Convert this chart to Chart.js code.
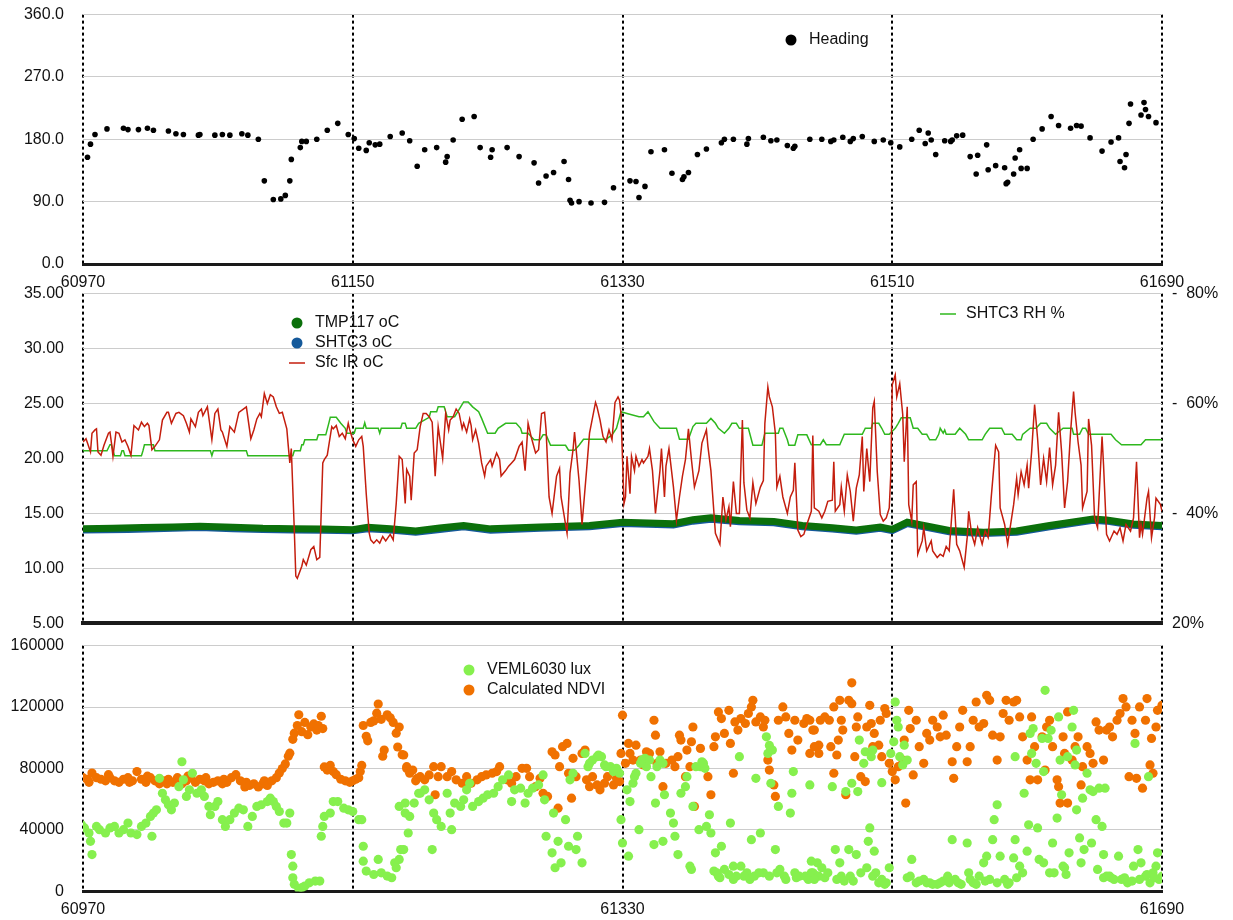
<!DOCTYPE html>
<html>
<head>
<meta charset="utf-8">
<script src="https://cdn.jsdelivr.net/npm/chart.js@4.4.1/dist/chart.umd.min.js"></script>
<style>
  body { margin: 0; background: #fff; overflow: hidden; }
  .panel { position: absolute; left: 0; }
</style>
</head>
<body>
<canvas id="c1" class="panel" style="top:-14px" width="1233" height="314"></canvas>
<canvas id="c2" class="panel" style="top:265px" width="1233" height="387"></canvas>
<canvas id="c3" class="panel" style="top:617px" width="1233" height="303"></canvas>
<script>
// x ticks shared by all three panels
const xTicks = [60970, 61150, 61330, 61510, 61690];

// top panel: heading (degrees)
const headingPoints = [[60973,154],[60975,173],[60978,187],[60986,195],[60997,196],[61000,194],[61007,194],[61013,196],[61017,193],[61027,192],[61032,188],[61037,187],[61047,186],[61048,187],[61058,186],[61063,187],[61068,186],[61076,188],[61080,186],[61087,180],[61091,120],[61097,93],[61102,94],[61105,99],[61108,120],[61109,151],[61115,168],[61116,177],[61119,177],[61126,180],[61133,193],[61140,203],[61147,187],[61151,181],[61154,167],[61159,164],[61161,175],[61165,172],[61168,173],[61175,184],[61183,189],[61188,178],[61193,141],[61198,165],[61206,168],[61212,147],[61213,155],[61217,179],[61223,209],[61231,213],[61235,168],[61242,154],[61243,165],[61253,168],[61261,155],[61271,146],[61274,117],[61279,127],[61284,132],[61291,148],[61294,122],[61295,92],[61296,88],[61301,90],[61309,88],[61318,89],[61324,110],[61335,120],[61339,119],[61341,96],[61345,112],[61349,162],[61358,165],[61363,131],[61370,122],[61371,126],[61374,132],[61380,158],[61386,166],[61396,175],[61398,180],[61404,180],[61413,173],[61414,181],[61424,183],[61429,178],[61433,179],[61440,171],[61444,167],[61445,170],[61455,180],[61463,180],[61469,177],[61471,179],[61477,183],[61482,177],[61484,181],[61490,184],[61498,177],[61504,179],[61509,175],[61515,169],[61523,180],[61528,193],[61532,174],[61534,189],[61536,179],[61539,158],[61545,178],[61549,177],[61550,179],[61553,185],[61557,186],[61562,155],[61566,130],[61567,157],[61573,172],[61574,136],[61579,142],[61585,139],[61586,116],[61587,118],[61591,130],[61592,153],[61595,165],[61596,138],[61600,138],[61604,180],[61610,195],[61616,213],[61621,200],[61629,196],[61633,200],[61636,199],[61642,182],[61650,163],[61656,176],[61661,182],[61662,148],[61665,139],[61666,158],[61668,203],[61669,231],[61676,215],[61678,233],[61679,223],[61681,213],[61686,204]];

// middle panel: temperatures (oC) and humidity (%)
const tmp117Points = [[60970,13.62],[60990,13.65],[61010,13.72],[61030,13.78],[61048,13.83],[61070,13.75],[61090,13.65],[61110,13.62],[61130,13.58],[61150,13.52],[61160,13.74],[61175,13.6],[61192,13.4],[61208,13.68],[61224,13.9],[61242,13.6],[61275,13.76],[61308,13.9],[61330,14.2],[61364,14.07],[61377,14.43],[61389,14.6],[61408,14.37],[61431,14.28],[61450,13.9],[61470,13.7],[61486,13.5],[61502,13.77],[61510,13.55],[61520,14.2],[61548,13.46],[61571,13.3],[61593,13.4],[61615,13.9],[61644,14.5],[61653,14.4],[61671,14.04],[61690,13.9]];
const shtc3TempPoints = [[60970,13.5],[61000,13.55],[61030,13.65],[61048,13.72],[61070,13.62],[61090,13.55],[61110,13.5],[61130,13.47],[61150,13.42],[61160,13.6],[61175,13.5],[61192,13.3],[61208,13.55],[61224,13.78],[61242,13.48],[61275,13.65],[61308,13.78],[61330,14.08],[61364,13.95],[61377,14.3],[61389,14.48],[61408,14.25],[61431,14.15],[61450,13.78],[61470,13.58],[61486,13.38],[61502,13.65],[61510,13.45],[61520,14.08],[61548,13.33],[61571,13.18],[61593,13.28],[61615,13.78],[61644,14.38],[61653,14.3],[61671,13.92],[61690,13.8]];
const sfcIrPoints = [[60970,21.5],[60972,21.8],[60973,21.4],[60975,20.6],[60976,22.3],[60978,22.6],[60979,22.7],[60980,20.6],[60982,20.3],[60984,21.2],[60987,22.3],[60988,22.4],[60989,21.4],[60990,20.2],[60992,22.4],[60994,22.3],[60996,21.5],[60998,21.7],[61000,21.1],[61002,20.3],[61004,23.0],[61007,22.6],[61009,23.3],[61011,22.9],[61013,23.2],[61014,23.0],[61016,20.8],[61018,21.1],[61021,21.7],[61023,23.5],[61026,24.2],[61027,24.2],[61029,23.2],[61032,24.1],[61034,24.2],[61037,23.9],[61039,23.2],[61041,22.4],[61042,23.6],[61045,22.9],[61047,24.2],[61049,24.5],[61050,23.9],[61053,24.7],[61056,21.7],[61058,24.1],[61060,24.5],[61062,22.6],[61063,22.4],[61066,21.1],[61068,22.9],[61071,22.4],[61074,24.2],[61077,24.5],[61079,24.7],[61082,21.8],[61084,22.6],[61086,23.6],[61088,24.1],[61089,23.8],[61091,25.9],[61093,25.0],[61095,25.8],[61097,25.6],[61099,24.7],[61101,24.1],[61103,24.2],[61106,22.7],[61107,21.1],[61108,19.6],[61109,20.9],[61111,13.5],[61112,9.3],[61113,9.1],[61116,10.2],[61117,10.8],[61119,10.3],[61122,11.7],[61124,12.0],[61126,10.8],[61128,11.0],[61130,19.6],[61131,19.9],[61133,20.3],[61136,22.9],[61137,22.7],[61139,23.0],[61141,22.0],[61143,22.3],[61145,21.8],[61147,23.2],[61148,22.6],[61150,21.7],[61152,21.1],[61154,21.7],[61156,22.0],[61157,21.1],[61159,16.8],[61161,13.2],[61162,12.6],[61164,12.3],[61166,12.6],[61168,12.3],[61170,12.9],[61172,12.5],[61175,13.1],[61177,12.6],[61179,15.9],[61181,20.2],[61183,19.9],[61185,15.9],[61186,19.0],[61188,18.4],[61189,16.2],[61191,20.5],[61193,20.8],[61195,22.9],[61197,24.1],[61199,24.1],[61201,23.8],[61203,23.3],[61205,18.4],[61207,22.9],[61210,20.0],[61212,24.1],[61214,22.6],[61215,23.5],[61217,23.8],[61219,24.5],[61221,24.1],[61223,22.7],[61224,23.2],[61226,22.4],[61228,23.6],[61229,23.0],[61230,21.7],[61232,22.6],[61234,21.4],[61236,19.6],[61238,18.4],[61239,19.3],[61242,19.9],[61243,19.3],[61246,20.5],[61248,19.9],[61249,18.4],[61252,18.9],[61254,19.3],[61256,19.6],[61258,19.9],[61261,21.1],[61263,21.5],[61265,18.9],[61267,23.2],[61269,22.0],[61272,20.5],[61274,20.8],[61276,24.1],[61278,24.2],[61279,22.6],[61281,16.5],[61283,15.0],[61286,18.4],[61288,19.1],[61289,16.5],[61292,14.0],[61293,13.2],[61295,18.7],[61297,20.8],[61298,22.4],[61301,18.0],[61303,14.0],[61306,18.9],[61308,22.3],[61312,25.1],[61313,24.7],[61315,23.5],[61317,22.0],[61319,21.5],[61321,22.6],[61323,21.7],[61325,25.1],[61327,25.6],[61328,25.3],[61329,24.1],[61331,15.9],[61332,16.5],[61333,20.2],[61335,16.8],[61336,20.2],[61338,18.9],[61339,20.2],[61341,19.3],[61343,19.9],[61344,19.6],[61347,20.2],[61348,20.9],[61350,18.9],[61352,15.0],[61355,18.9],[61356,20.9],[61358,16.5],[61359,19.3],[61361,20.9],[61364,17.4],[61366,14.4],[61368,16.5],[61370,18.4],[61372,19.9],[61374,22.7],[61376,19.9],[61378,17.4],[61381,18.9],[61383,21.4],[61386,22.6],[61387,21.1],[61389,18.9],[61392,13.2],[61395,12.2],[61397,16.5],[61399,14.4],[61401,15.6],[61402,13.8],[61404,17.9],[61406,15.0],[61408,15.0],[61410,23.5],[61411,17.8],[61413,15.3],[61415,14.6],[61417,17.8],[61419,15.9],[61422,17.4],[61424,18.0],[61425,23.2],[61427,26.5],[61428,25.6],[61430,24.7],[61432,22.3],[61433,17.4],[61435,18.4],[61437,16.5],[61440,15.0],[61442,16.5],[61444,17.1],[61445,19.6],[61447,13.5],[61449,12.9],[61451,13.1],[61453,14.0],[61456,15.2],[61457,22.1],[61458,15.5],[61461,15.2],[61463,14.6],[61465,15.2],[61467,16.1],[61470,16.2],[61471,19.7],[61472,15.2],[61475,15.8],[61476,17.4],[61478,15.2],[61480,18.5],[61482,17.0],[61484,14.3],[61486,17.3],[61488,18.5],[61490,22.0],[61491,17.0],[61493,20.9],[61495,17.9],[61497,24.6],[61498,25.2],[61500,18.8],[61502,14.9],[61504,14.3],[61506,14.6],[61508,15.5],[61509,18.5],[61510,26.7],[61512,27.6],[61513,25.6],[61515,26.8],[61517,24.0],[61518,19.7],[61520,24.7],[61521,15.8],[61523,14.3],[61524,17.6],[61526,17.9],[61527,11.3],[61530,12.5],[61531,13.7],[61533,11.6],[61536,12.5],[61537,11.6],[61540,11.0],[61542,11.3],[61544,11.1],[61546,12.0],[61548,11.6],[61551,17.2],[61553,12.2],[61555,11.6],[61558,10.1],[61560,12.8],[61561,15.2],[61563,13.1],[61565,12.2],[61567,13.7],[61570,12.2],[61572,13.4],[61574,12.8],[61576,16.4],[61579,21.2],[61581,20.6],[61582,15.5],[61585,14.0],[61587,12.2],[61589,14.0],[61591,15.8],[61593,18.2],[61594,16.7],[61596,18.8],[61598,17.6],[61600,19.4],[61601,17.3],[61603,20.6],[61605,24.9],[61607,21.8],[61609,17.6],[61611,20.0],[61613,17.9],[61615,21.0],[61617,17.6],[61619,19.4],[61621,24.2],[61623,20.6],[61625,15.5],[61627,17.9],[61629,22.4],[61631,26.1],[61632,24.2],[61634,21.5],[61636,19.4],[61637,15.5],[61640,17.0],[61641,23.6],[61643,21.2],[61645,14.6],[61647,13.7],[61650,22.0],[61651,19.4],[61653,13.1],[61655,12.5],[61658,13.4],[61660,13.1],[61662,13.7],[61664,12.5],[61666,14.0],[61669,13.4],[61671,14.6],[61673,19.7],[61675,12.8],[61676,14.0],[61677,13.1],[61680,16.4],[61681,17.0],[61683,12.8],[61685,14.6],[61686,16.4],[61689,15.8],[61690,15.2]];
const rhPoints = [[60970,51.4],[60986,51.4],[60988,52.5],[60989,52.5],[60991,50.5],[60995,50.5],[60996,51.4],[60997,51.4],[60998,50.5],[61009,50.5],[61010,51.4],[61011,52.5],[61017,52.5],[61018,51.4],[61055,51.4],[61056,50.5],[61057,51.4],[61079,51.4],[61080,50.5],[61110,50.5],[61111,51.4],[61115,51.4],[61116,52.5],[61117,52.5],[61118,53.4],[61126,53.4],[61127,54.3],[61132,54.3],[61134,56.4],[61135,57.5],[61139,57.5],[61142,56.4],[61145,55.5],[61146,54.6],[61151,54.6],[61152,55.5],[61157,55.5],[61158,56.5],[61159,55.5],[61167,55.5],[61168,54.6],[61169,55.5],[61182,55.5],[61183,56.4],[61185,56.4],[61186,55.5],[61192,55.5],[61194,56.4],[61201,57.5],[61202,58.5],[61206,58.5],[61207,59.4],[61211,59.4],[61213,57.6],[61218,57.6],[61220,58.5],[61222,59.4],[61224,60.3],[61227,60.3],[61230,59.4],[61234,58.5],[61236,57.3],[61240,54.6],[61245,54.6],[61247,55.5],[61252,56.4],[61259,56.4],[61262,55.5],[61263,54.6],[61267,54.6],[61271,53.4],[61275,53.4],[61277,54.3],[61279,54.3],[61282,52.4],[61292,52.4],[61294,51.5],[61298,51.5],[61301,52.4],[61304,53.5],[61319,53.5],[61323,54.3],[61326,55.5],[61329,58.5],[61333,58.2],[61341,57.6],[61344,57.6],[61347,58.5],[61349,57.6],[61351,56.7],[61355,55.5],[61366,55.5],[61368,53.5],[61374,53.5],[61377,55.8],[61379,56.4],[61386,56.4],[61389,57.3],[61392,56.4],[61394,55.5],[61398,54.6],[61401,55.5],[61403,56.4],[61406,56.4],[61408,55.5],[61414,55.5],[61417,52.4],[61423,52.4],[61425,54.6],[61434,54.6],[61435,55.5],[61437,55.5],[61440,53.4],[61441,52.4],[61445,52.4],[61447,54.3],[61453,54.3],[61456,52.5],[61462,52.5],[61464,53.4],[61466,52.5],[61475,52.5],[61478,54.4],[61490,54.4],[61492,55.5],[61496,55.5],[61497,56.4],[61501,56.4],[61503,55.5],[61505,54.4],[61508,54.4],[61512,55.5],[61514,56.4],[61516,57.4],[61522,57.4],[61524,55.5],[61527,55.5],[61530,54.4],[61533,54.4],[61535,53.4],[61539,53.4],[61541,54.4],[61542,55.5],[61544,54.6],[61545,55.2],[61546,54.4],[61552,54.4],[61555,55.5],[61559,54.4],[61561,53.4],[61570,53.4],[61572,54.4],[61575,55.5],[61583,55.5],[61585,54.4],[61590,54.4],[61593,53.4],[61596,53.4],[61597,54.4],[61602,55.5],[61606,55.5],[61609,56.4],[61613,56.4],[61615,55.5],[61619,54.4],[61624,55.5],[61630,55.5],[61631,54.4],[61635,54.4],[61637,55.5],[61639,55.5],[61641,54.4],[61656,54.4],[61659,53.4],[61663,52.5],[61676,52.5],[61679,53.4],[61690,53.4]];

// bottom panel: light (lux) and NDVI
const luxPoints = [[60969,43400],[60971,41300],[60974,38000],[60975,32600],[60976,24000],[60979,42300],[60981,40200],[60985,38000],[60988,41300],[60991,42300],[60994,38000],[60997,40200],[61000,44500],[61002,38000],[61006,37000],[61009,42300],[61012,44500],[61015,48800],[61016,35900],[61017,51000],[61019,53100],[61021,73600],[61023,63900],[61025,59600],[61027,56400],[61029,53100],[61031,57500],[61034,68200],[61036,84400],[61037,72600],[61039,61800],[61041,66100],[61043,76900],[61046,63900],[61049,66100],[61051,61800],[61054,55300],[61055,49900],[61058,55300],[61060,58500],[61063,46700],[61065,42300],[61068,46700],[61071,51000],[61074,54200],[61077,53100],[61080,42300],[61083,48800],[61086,55300],[61089,56400],[61093,58500],[61095,60700],[61097,58500],[61099,55300],[61101,52000],[61104,44500],[61106,44500],[61108,51000],[61109,24000],[61110,16400],[61110,8900],[61111,4600],[61114,1800],[61116,2400],[61118,3500],[61121,5600],[61125,6700],[61128,6700],[61129,35900],[61130,42300],[61131,48800],[61135,51000],[61137,58500],[61140,58500],[61144,54200],[61147,53100],[61150,52000],[61154,46700],[61156,46700],[61157,29400],[61157,19700],[61159,13200],[61164,11000],[61167,20800],[61169,12100],[61173,10000],[61176,8900],[61178,18600],[61179,15400],[61181,20800],[61182,27200],[61181,55300],[61185,57500],[61187,38000],[61188,48800],[61191,57500],[61194,63900],
  [61184,27200],[61185,51000],[61195,63900],[61198,66100],[61201,59600],[61204,51000],[61203,27200],[61206,46700],[61209,42300],[61213,63900],[61215,51000],[61216,40200],[61218,57500],[61222,55300],[61224,59600],[61226,66100],[61228,70400],[61230,55300],[61234,58500],[61237,60700],[61240,62900],[61244,63900],[61247,68200],[61250,72600],[61254,75800],[61256,58500],[61258,66100],[61262,67200],[61265,57500],[61267,63900],[61270,67200],[61274,69300],[61277,75800],[61278,59600],[61279,35900],[61283,25100],[61284,51000],[61285,15400],[61287,32600],[61289,18600],[61292,46700],[61294,29400],[61295,72600],[61297,76900],[61299,27200],[61300,35900],[61303,18600],[61305,89800],[61307,81200],[61310,85500],[61314,88800],[61316,87700],[61318,82300],[61322,81200],[61325,79000],[61328,76900],[61329,46700],[61330,31500],[61333,66100],[61334,22900],[61335,58500],[61337,70400],[61339,76900],[61341,40200],[61343,85500],[61346,81200],[61349,74700],[61351,30500],[61352,57500],[61355,85500],[61357,32600],[61358,62900],[61362,51000],[61364,44500],[61365,35900],[61367,24000],[61369,63900],[61372,68200],[61373,74700],[61375,16400],[61376,14300],[61377,55300],[61381,40200],[61382,81200],[61384,83400],[61386,42300],[61388,49900],[61389,38000],[61391,13200],[61392,25100],[61394,9900],[61396,29400],[61398,14300],[61402,44500],[61404,16400],[61406,9900],[61408,87700],[61409,16400],[61413,12100],[61416,33700],[61418,9900],[61419,73600],[61422,38000],[61424,12100],[61426,100600],[61427,89800],[61428,95000],[61430,92000],[61429,70400],[61432,27200],[61434,55300],[61435,14300],[61438,9900],[61442,51000],[61443,63900],[61444,78000],[61445,12100],[61448,9900],[61452,9900],[61456,12100],[61460,18600],
  [61308,83400],[61313,87700],[61319,81200],[61324,78000],[61326,80100],[61338,74700],[61342,83400],[61345,86600],[61348,85500],[61353,81200],[61357,83400],[61379,81200],[61383,84400],[61385,80100],[61393,12100],[61395,8900],[61401,11000],[61404,7800],[61411,9900],[61415,7800],[61421,12100],[61428,9900],[61433,12100],[61439,7800],[61446,8900],[61454,7800],[61458,11000],
  [61455,69300],[61456,19700],[61457,12100],[61461,9900],[61463,15400],[61465,8900],[61470,68200],[61472,27200],[61475,18600],[61476,9900],[61479,65000],[61481,27200],[61483,70400],[61484,6700],[61486,24000],[61487,65000],[61488,98500],[61489,12100],[61491,83400],[61492,90900],[61493,15400],[61494,32600],[61495,41300],[61496,87700],[61497,92000],[61498,26200],[61499,12100],[61503,7800],[61503,70800],[61506,5600],[61508,15400],[61509,89800],[61511,97400],[61512,123300],[61513,111400],[61514,107000],[61515,87700],[61517,82300],[61518,95200],[61520,85500],[61520,8900],[61523,20800],[61526,5600],[61531,7800],[61535,5600],[61540,4600],[61544,6700],[61547,9900],[61550,33700],[61552,7800],[61556,4600],[61560,31500],[61561,12100],[61564,5600],[61568,9900],[61571,18600],[61573,22900],[61575,7800],[61577,33700],[61578,46700],[61580,56400],[61582,22900],[61585,7800],[61588,5600],[61591,21800],[61592,87700],[61592,33700],[61595,16400],[61598,63900],[61600,26200],[61601,43400],[61602,102800],[61603,89800],[61604,106000],[61606,83400],[61607,41300],[61608,20800],[61610,99600],[61611,78000],[61612,130900],[61614,99600],[61615,12100],[61616,104900],[61617,31500],[61620,47700],[61621,113600],[61622,85500],[61623,62900],[61624,16400],[61626,11000],[61627,87700],[61628,25100],[61630,107000],[61631,117900],[61632,82300],[61633,92000],[61633,53100],[61635,34800],[61636,18600],[61637,60700],[61638,27200],[61640,76900],[61642,66100],[61643,31500],[61644,65000],[61646,46700],[61647,14300],[61648,67200],[61650,42300],[61651,24000],[61652,67200],[61653,9900],[61656,8900],[61661,22900],[61663,7800],[61667,5600],[61671,16400],[61672,96300],[61674,27200],[61676,18600],[61679,9900],[61681,74700],[61682,5600],[61684,12100],[61686,16400],[61687,25100],[61688,7800],[61690,9900],
  [61458,7800],[61467,12100],[61473,7800],[61478,6700],[61482,9900],[61497,9900],[61501,5600],[61505,4600],[61522,9900],[61528,6700],[61533,5600],[61537,4600],[61542,5600],[61548,5600],[61554,5600],[61562,7800],[61566,4600],[61572,6700],[61580,5600],[61587,4600],[61593,8900],[61597,12100],[61611,18600],[61618,12100],[61625,15400],[61651,8900],[61655,9900],[61658,7800],[61665,8900],[61670,6700],[61675,7800],[61680,11000],[61685,8900]];
const ndviPoints = [[60970,74000],[60973,73000],[60974,71000],[60976,77000],[60979,74000],[60982,73000],[60985,72000],[60987,76000],[60988,74000],[60991,72000],[60994,71000],[60997,73000],[61000,74000],[61001,71000],[61003,72000],[61006,78000],[61009,73000],[61012,71000],[61013,75000],[61015,74000],[61018,72000],[61021,70000],[61024,72000],[61026,70000],[61027,73000],[61030,71000],[61033,74000],[61036,70000],[61039,72000],[61040,75000],[61042,74000],[61045,71000],[61048,73000],[61051,72000],[61052,74000],[61054,70000],[61057,71000],[61060,72000],[61063,70000],[61064,73000],[61066,71000],[61069,74000],[61072,76000],[61075,72000],[61078,68000],[61079,71000],[61081,69000],[61084,70000],[61087,68000],[61090,70000],[61091,72000],[61093,69000],[61096,72000],[61099,74000],[61101,77000],[61103,80000],[61105,83000],[61107,88000],[61108,90000],[61110,99000],[61111,103000],[61113,108000],[61114,115000],[61116,104000],[61118,110000],[61120,102000],[61122,107000],[61124,109000],[61126,105000],[61127,108000],[61129,114000],[61130,106000],[61131,81000],[61133,79000],[61135,82000],[61137,78000],[61139,76000],[61142,73000],[61145,72000],[61148,71000],[61150,72000],[61152,73000],[61154,74000],[61155,78000],[61156,82000],[61157,108000],[61159,101000],[61160,98000],[61162,110000],[61164,111000],[61166,116000],[61167,122000],[61169,112000],[61170,88000],[61171,92000],[61173,115000],[61175,113000],[61177,110000],[61179,103000],[61180,94000],[61183,89000],[61186,80000],[61192,72000],
  [61181,107000],[61184,88800],[61186,81200],[61188,76900],[61190,79000],[61193,73600],[61195,74700],[61198,72600],[61201,75800],[61204,81200],[61205,62900],[61207,74700],[61209,81200],[61213,74700],[61216,78000],[61219,72600],[61223,70400],[61226,74700],[61229,70400],[61233,72600],[61236,74700],[61239,75800],[61243,76900],[61246,78000],[61248,81200],[61253,72600],[61256,70400],[61259,74700],[61263,80100],[61266,80100],[61268,74700],[61272,68200],[61275,73600],[61277,63900],[61280,61800],[61283,90900],[61285,88800],[61287,54200],[61288,81200],[61290,94200],[61293,96300],[61294,76900],[61296,60700],[61297,86600],[61299,74700],[61303,89800],[61305,92000],[61306,72600],[61308,68200],[61310,74700],[61313,69300],[61315,66100],[61318,70400],[61320,74700],[61324,69300],[61326,73600],[61328,71500],[61329,89800],[61330,114700],[61332,83400],[61334,96300],[61335,89800],[61337,85500],[61339,95200],[61342,85500],[61344,82300],[61346,90900],[61348,89800],[61351,111400],[61352,101700],[61353,83400],[61355,90900],[61357,68200],[61359,83400],[61363,85500],[61365,81200],[61367,87700],[61368,101700],[61369,98500],[61372,74700],[61373,92000],[61375,81200],[61376,97400],[61377,107000],[61378,55300],[61382,93100],[61384,81200],[61387,74700],[61389,62900],[61391,94200],[61392,100600],[61394,116800],[61396,112500],[61398,102800],[61401,117900],[61402,96300],[61404,76900],[61405,110300],[61407,105000],[61409,112500],[61412,109300],[61414,115800],[61416,120100],[61417,124400],[61419,110300],[61422,113600],[61424,107000],[61425,111400],[61427,85500],[61428,79000],[61431,69300],[61432,61800],[61434,111400],[61437,120100],[61439,113600],[61441,102800],[61443,92000],[61445,111400],[61447,98500],[61451,109300],[61453,112500],[61455,89800],[61458,105000],[61461,95200],
  [61455,111400],[61457,105000],[61458,94200],[61461,89800],[61462,111400],[61465,113600],[61468,111400],[61469,94200],[61471,76900],[61471,120100],[61473,88800],[61474,98500],[61475,124400],[61476,111400],[61477,105000],[61479,62900],[61481,124400],[61483,135800],[61483,122200],[61485,87700],[61486,107000],[61487,113600],[61489,74700],[61492,71500],[61493,107000],[61495,121100],[61496,109300],[61497,94200],[61498,102800],[61501,95200],[61502,111400],[61503,87700],[61505,119000],[61506,115800],[61508,83400],[61510,78000],[61512,72600],[61514,81200],[61517,85500],[61518,98500],[61519,57500],[61521,117900],[61522,106000],[61524,75800],[61526,111400],[61528,94200],[61531,83400],[61533,102800],[61535,98500],[61537,111400],[61540,107000],[61542,100600],[61544,114700],[61546,101700],[61550,84400],[61551,73600],[61553,94200],[61555,107000],[61557,117900],[61560,84400],[61562,94200],[61564,111400],[61566,123300],[61568,107000],[61571,109300],[61573,127600],[61575,124400],[61577,101700],[61580,85500],[61582,100600],[61584,115800],[61586,124400],[61588,111400],[61591,123300],[61593,124400],[61595,113600],[61597,100600],[61600,85500],[61602,72600],[61603,113600],[61605,94200],[61607,72600],[61610,100600],[61612,79000],[61613,107000],[61615,111400],[61617,94200],[61620,72600],[61621,68200],[61622,57500],[61624,100600],[61625,89800],[61627,116800],[61627,57500],[61630,85500],[61632,94200],[61634,100600],[61636,69300],[61637,81200],[61640,94200],[61642,89800],[61644,83400],[61646,110300],[61648,105000],[61651,85500],[61653,105000],[61655,107000],[61657,100600],[61660,111400],[61662,115800],[61664,125500],[61666,120100],[61668,74700],[61670,111400],[61672,102800],[61673,73600],[61675,120100],[61677,67200],[61679,111400],[61680,125500],[61682,82300],[61683,99600],[61684,76900],[61686,107000],[61687,117900],[61690,121100]];

const FONT = '"Liberation Sans", Arial, Helvetica, sans-serif';
Chart.defaults.font.family = FONT;
Chart.defaults.font.size = 16;
Chart.defaults.color = '#111';

const toXY = pts => pts.map(p => ({ x: p[0], y: p[1] }));

// legends drawn inside the plot like the original
const inlineLegend = {
  id: 'inlineLegend',
  afterDraw(chart, args, opts) {
    const ctx = chart.ctx;
    ctx.save();
    ctx.font = '16px ' + FONT;
    ctx.textBaseline = 'middle';
    (opts.items || []).forEach(it => {
      if (it.kind === 'dot') {
        ctx.fillStyle = it.color;
        ctx.beginPath();
        ctx.arc(it.x, it.y, 5.5, 0, Math.PI * 2);
        ctx.fill();
      } else {
        ctx.strokeStyle = it.color;
        ctx.lineWidth = 1.5;
        ctx.beginPath();
        ctx.moveTo(it.x - 8, it.y);
        ctx.lineTo(it.x + 8, it.y);
        ctx.stroke();
      }
      ctx.fillStyle = '#111';
      ctx.fillText(it.text, it.x + 18, it.y);
    });
    ctx.restore();
  }
};

function xScale(showLabels, axisHeight, borderWidth, hide) {
  return {
    type: 'linear', min: xTicks[0], max: xTicks[xTicks.length - 1],
    afterBuildTicks: s => { s.ticks = xTicks.map(v => ({ value: v })); },
    afterFit: s => { s.height = axisHeight; },
    grid: { color: '#000', lineWidth: 2, drawTicks: false },
    border: { color: '#1a1a1a', width: borderWidth, dash: [3, 3] },
    ticks: {
      display: showLabels, padding: 9, maxRotation: 0, autoSkip: false,
      callback: v => (hide && hide.includes(v)) ? '' : String(v)
    }
  };
}
function yScale(min, max, step, fmt) {
  return {
    min: min, max: max,
    afterFit: s => { s.width = 83; },
    grid: { color: '#cccccc', lineWidth: 1, drawTicks: false },
    border: { display: false },
    ticks: { stepSize: step, padding: 19, callback: fmt }
  };
}
const common = {
  responsive: false, animation: false, events: [],
  plugins: { legend: { display: false }, tooltip: { enabled: false } }
};

// top: heading
new Chart(document.getElementById('c1'), {
  type: 'scatter',
  data: { datasets: [{ label: 'Heading', data: toXY(headingPoints), backgroundColor: '#000', borderWidth: 0, pointRadius: 2.8 }] },
  options: Object.assign({}, common, {
    layout: { padding: { top: 0, right: 71, left: 0, bottom: 0 } },
    plugins: Object.assign({}, common.plugins, {
      inlineLegend: { items: [{ text: 'Heading', kind: 'dot', color: '#000', x: 791, y: 54 }] }
    }),
    scales: {
      x: xScale(true, 36, 3),
      y: yScale(0, 360, 90, v => v.toFixed(1))
    }
  }),
  plugins: [inlineLegend]
});

// middle: temperatures + RH
new Chart(document.getElementById('c2'), {
  type: 'line',
  data: { datasets: [
    { label: 'Sfc IR oC', data: toXY(sfcIrPoints), borderColor: '#c41e0e', borderWidth: 1.5, pointRadius: 0, yAxisID: 'y' },
    { label: 'TMP117 oC', data: toXY(tmp117Points), borderColor: '#0b700b', borderWidth: 7, pointRadius: 0, yAxisID: 'y' },
    { label: 'SHTC3 oC', data: toXY(shtc3TempPoints), borderColor: '#15599a', borderWidth: 7, pointRadius: 0, yAxisID: 'y' },
    { label: 'SHTC3 RH %', data: toXY(rhPoints), borderColor: '#2fb81e', borderWidth: 1.5, pointRadius: 0, yAxisID: 'y1' }
  ] },
  options: Object.assign({}, common, {
    layout: { padding: { top: 0, right: 0, left: 0, bottom: 0 } },
    plugins: Object.assign({}, common.plugins, {
      inlineLegend: { items: [
        { text: 'TMP117 oC', kind: 'dot', color: '#0b700b', x: 297, y: 58 },
        { text: 'SHTC3 oC', kind: 'dot', color: '#15599a', x: 297, y: 78 },
        { text: 'Sfc IR oC', kind: 'line', color: '#c41e0e', x: 297, y: 98 },
        { text: 'SHTC3 RH %', kind: 'line', color: '#2fb81e', x: 948, y: 49 }
      ] }
    }),
    scales: {
      x: xScale(false, 16, 4),
      y: yScale(5, 35, 5, v => v.toFixed(2)),
      y1: {
        position: 'right', min: 20, max: 80,
        afterFit: s => { s.width = 71; },
        grid: { display: false, drawTicks: false },
        border: { display: false },
        ticks: { stepSize: 20, padding: 10, callback: v => v === 20 ? '20%' : '-  ' + v + '%' }
      }
    }
  }),
  plugins: [inlineLegend]
});

// bottom: lux + NDVI
new Chart(document.getElementById('c3'), {
  type: 'scatter',
  data: { datasets: [
    { label: 'VEML6030 lux', data: toXY(luxPoints), backgroundColor: '#86f04e', borderWidth: 0, pointRadius: 4.6 },
    { label: 'Calculated NDVI', data: toXY(ndviPoints), backgroundColor: '#f07100', borderWidth: 0, pointRadius: 4.6 }
  ] },
  options: Object.assign({}, common, {
    layout: { padding: { top: 0, right: 71, left: 0, bottom: 0 } },
    plugins: Object.assign({}, common.plugins, {
      inlineLegend: { items: [
        { text: 'VEML6030 lux', kind: 'dot', color: '#86f04e', x: 469, y: 53 },
        { text: 'Calculated NDVI', kind: 'dot', color: '#f07100', x: 469, y: 73 }
      ] }
    }),
    scales: {
      x: xScale(true, 28, 3, [61150, 61510]),
      y: yScale(0, 160000, 40000, v => String(v))
    }
  }),
  plugins: [inlineLegend]
});
</script>
</body>
</html>
